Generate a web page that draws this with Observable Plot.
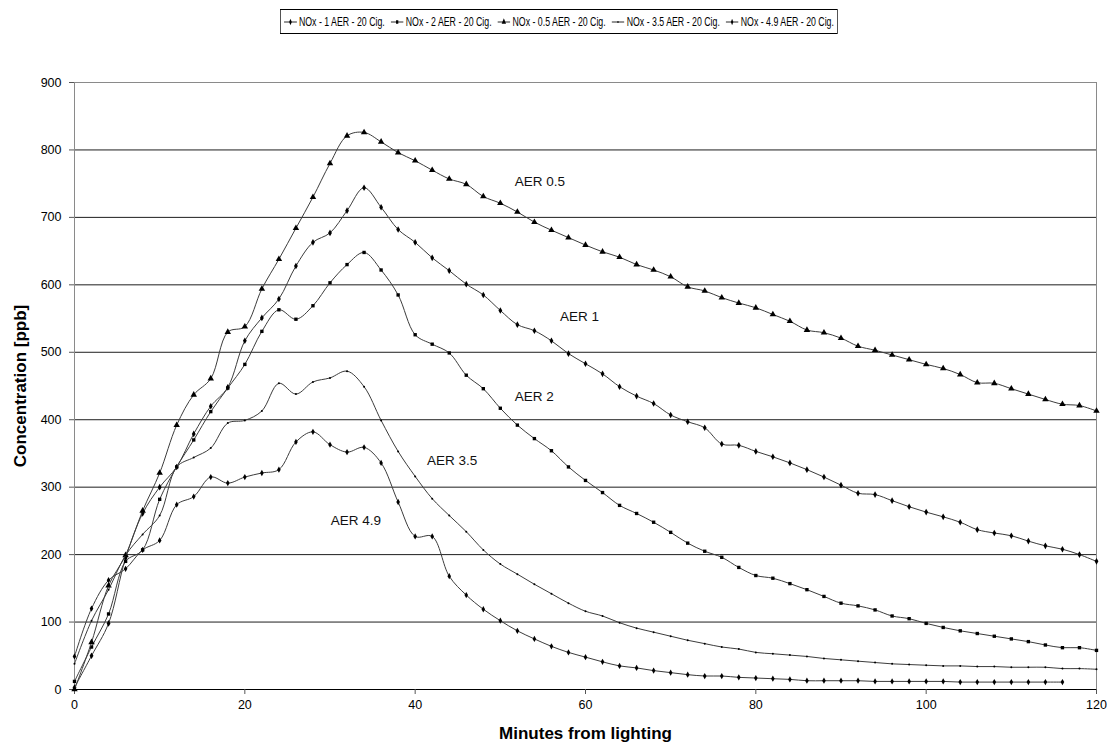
<!DOCTYPE html>
<html>
<head>
<meta charset="utf-8">
<script src="https://cdn.jsdelivr.net/npm/d3@7"></script>
<script src="https://cdn.jsdelivr.net/npm/@observablehq/plot@0.6"></script>
<style>
  html, body { margin: 0; padding: 0; background: #fff; }
  body { width: 1107px; height: 753px; position: relative; overflow: hidden;
         font-family: "Liberation Sans", Arial, sans-serif; color: #000; }
  #legend { position: absolute; top: 9px; left: 559px; transform-origin: 0 0;
            border: 1px solid #000; height: 23px; display: flex; align-items: center;
            padding: 0 5px; white-space: nowrap; font-size: 13px; box-sizing: content-box; }
  #legend .item { display: flex; align-items: center; margin-right: 9px; }
  #legend .item:last-child { margin-right: 0; }
  #legend svg { margin-right: 3px; }
  #chart { position: absolute; top: 40px; left: 0; }
</style>
</head>
<body>
<div id="legend"></div>
<div id="chart"></div>
<script>
// Sampling times (minutes after the cigarettes were lit)
const minutes = [0, 2, 4, 6, 8, 10, 12, 14, 16, 18, 20, 22, 24, 26, 28, 30, 32, 34, 36, 38, 40,
  42, 44, 46, 48, 50, 52, 54, 56, 58, 60, 62, 64, 66, 68, 70, 72, 74, 76, 78, 80,
  82, 84, 86, 88, 90, 92, 94, 96, 98, 100, 102, 104, 106, 108, 110, 112, 114, 116, 118, 120];

// NOx concentration [ppb] for each air exchange rate
const nox05 = [0, 70, 154, 199, 265, 321, 392, 437, 461, 530, 538, 594, 638, 684, 730, 780, 821, 826, 812, 796,
  784, 770, 757, 749, 731, 721, 708, 693, 681, 670, 659, 649, 641, 630, 622, 612, 597, 591, 581, 573,
  566, 556, 546, 533, 529, 521, 509, 503, 496, 489, 482, 476, 467, 455, 454, 446, 438, 430, 423, 421, 413];
const nox1 = [3, 50, 98, 195, 261, 300, 330, 379, 420, 448, 517, 551, 579, 628, 663, 677, 710, 744, 715, 682,
  663, 640, 621, 601, 585, 562, 541, 532, 517, 498, 483, 468, 449, 435, 424, 407, 397, 388, 364, 362,
  353, 345, 336, 326, 315, 303, 291, 289, 280, 271, 263, 256, 248, 237, 232, 228, 220, 213, 208, 200, 190];
const nox2 = [12, 63, 112, 190, 207, 282, 330, 370, 412, 447, 482, 531, 563, 549, 569, 603, 630, 648, 622, 585,
  526, 512, 499, 466, 446, 417, 392, 372, 354, 330, 310, 292, 273, 261, 248, 233, 217, 205, 196, 181,
  169, 165, 157, 148, 138, 128, 124, 118, 109, 105, 98, 92, 87, 83, 79, 75, 71, 66, 62, 62, 58];
const nox35 = [38, 102, 148, 199, 230, 258, 330, 344, 358, 395, 399, 413, 454, 438, 456, 462, 472, 449, 399, 353,
  316, 283, 258, 234, 207, 186, 171, 156, 142, 128, 116, 109, 99, 91, 85, 79, 73, 68, 63, 60,
  55, 53, 51, 49, 46, 44, 42, 40, 38, 37, 36, 35, 35, 34, 34, 33, 33, 33, 31, 31, 30];
const nox49 = [49, 120, 162, 179, 207, 221, 274, 286, 315, 306, 315, 321, 326, 367, 382, 363, 352, 359, 336, 278,
  227, 227, 168, 140, 119, 102, 87, 75, 64, 55, 48, 41, 35, 32, 28, 25, 22, 20, 20, 18,
  17, 16, 15, 13, 13, 13, 13, 12, 12, 12, 12, 12, 11, 11, 11, 11, 11, 11, 11];

const seriesNames = ["NOx - 1 AER - 20 Cig.", "NOx - 2 AER - 20 Cig.", "NOx - 0.5 AER - 20 Cig.",
  "NOx - 3.5 AER - 20 Cig.", "NOx - 4.9 AER - 20 Cig."];
const seriesValues = [nox1, nox2, nox05, nox35, nox49];
const seriesSymbols = ["diamond", "square", "triangle", "circle", "diamond"];
const seriesRadius = [2.0, 1.9, 2.4, 1.0, 1.9];

// Curve labels, placed in data units (minutes, ppb) at the label's left/middle
const curveLabels = ["AER 0.5", "AER 1", "AER 2", "AER 3.5", "AER 4.9"];
const curveLabelMinute = [51.7, 57.0, 51.7, 41.4, 30.1];
const curveLabelPpb = [753, 553, 434, 339, 251];

const xTicks = [0, 20, 40, 60, 80, 100, 120];
const yTicks = [0, 100, 200, 300, 400, 500, 600, 700, 800, 900];

const rows = seriesNames.flatMap((name, i) =>
  seriesValues[i].map((v, j) => ({series: name, idx: i, minute: minutes[j], ppb: v})));

const font = '"Liberation Sans", Arial, sans-serif';

const marks = [
  Plot.ruleY(yTicks, {stroke: d => d === 900 ? "#8a8a8a" : "#1e1e1e", strokeWidth: 1}),
  Plot.ruleX([0], {stroke: "#8a8a8a"}),
  Plot.ruleX([120], {stroke: "#8a8a8a"}),
  Plot.ruleY([0], {stroke: "#000"}),
  Plot.axisY({ticks: yTicks, tickSize: 5, tickPadding: 8, label: null, fontSize: 12.5, stroke: "#555"}),
  Plot.axisX({ticks: xTicks, tickSize: 5, tickPadding: 6, label: null, fontSize: 12.5, stroke: "#555"})
];

seriesNames.forEach((name, i) => {
  const data = rows.filter(d => d.idx === i);
  marks.push(Plot.line(data, {x: "minute", y: "ppb", curve: "catmull-rom", stroke: "#3c3c3c", strokeWidth: 1}));
  marks.push(Plot.dot(data, {x: "minute", y: "ppb", symbol: seriesSymbols[i], r: seriesRadius[i],
    fill: "#000", stroke: "none"}));
});

marks.push(Plot.text(curveLabels.map((t, i) => ({t, x: curveLabelMinute[i], y: curveLabelPpb[i]})),
  {x: "x", y: "y", text: "t", textAnchor: "start", fontSize: 13.5, fill: "#111"}));

marks.push(Plot.text(["Minutes from lighting"], {frameAnchor: "bottom", dy: 49, fontSize: 17,
  fontWeight: "bold", fill: "#000", textAnchor: "middle"}));
marks.push(Plot.text(["Concentration [ppb]"], {frameAnchor: "left", dx: -54, rotate: -90, fontSize: 17,
  fontWeight: "bold", fill: "#000", textAnchor: "middle"}));

const chart = Plot.plot({
  width: 1107,
  height: 713,
  marginLeft: 74,
  marginRight: 11,
  marginTop: 42,
  marginBottom: 64,
  x: {domain: [0, 120]},
  y: {domain: [0, 900]},
  style: {fontFamily: font, fontSize: "12.5px", color: "#000", background: "#fff"},
  marks
});
document.getElementById("chart").appendChild(chart);

// Legend: line segment with the series marker, then its name
const legendNode = document.getElementById("legend");
const legend = d3.select(legendNode);
seriesNames.forEach((name, i) => {
  const item = legend.append("div").attr("class", "item");
  const svg = item.append("svg").attr("width", 19).attr("height", 10);
  svg.append("line").attr("x1", 0).attr("x2", 19).attr("y1", 5).attr("y2", 5)
    .attr("stroke", "#000").attr("stroke-width", 1);
  const area = Math.PI * seriesRadius[i] * seriesRadius[i];
  const sym = {diamond: d3.symbolDiamond, square: d3.symbolSquare, triangle: d3.symbolTriangle,
    circle: d3.symbolCircle}[seriesSymbols[i]];
  svg.append("path").attr("transform", "translate(9.5,5)")
    .attr("d", d3.symbol(sym, area)()).attr("fill", "#000");
  item.append("span").text(name);
});
// The legend box is condensed horizontally to span 558px, centred on the plot
const w = legendNode.getBoundingClientRect().width;
const s = 558 / w;
legendNode.style.left = (559 - 279) + "px";
legendNode.style.transform = `scaleX(${s})`;
</script>
</body>
</html>
